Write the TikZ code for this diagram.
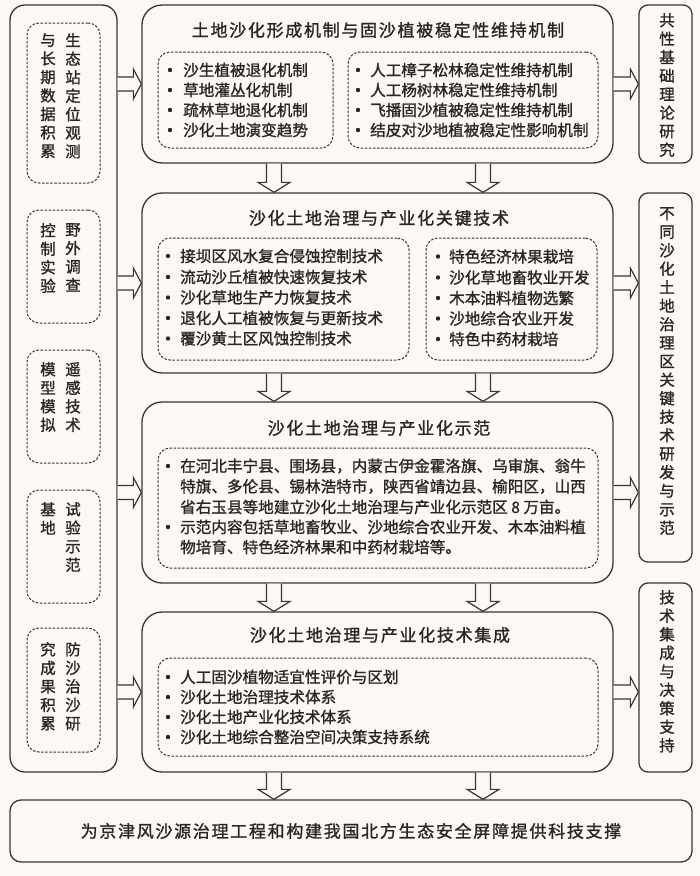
\documentclass[tikz,border=0pt]{standalone}
\usepackage{fontspec}
\newfontfamily\cjk[FakeBold=1.2]{Noto Sans CJK SC}
\newfontfamily\cjkt[LetterSpace=10,FakeBold=1.3]{Noto Sans CJK SC}
\usetikzlibrary{calc}
\definecolor{bg}{HTML}{FBF8F5}
\definecolor{ln}{HTML}{3A3632}
\definecolor{tx}{HTML}{2A2623}
\tikzset{
  mainbox/.style={draw=ln, line width=1.3pt, rounded corners=20pt, fill=bg, inner sep=0pt},
  sidebox/.style={draw=ln, line width=1.3pt, rounded corners=9pt, fill=bg, inner sep=0pt},
  leftbox/.style={draw=ln, line width=1.3pt, rounded corners=15pt, fill=bg, inner sep=0pt},
  dbox/.style={draw=ln, line width=1pt, dash pattern=on 2.5pt off 1.6pt, rounded corners=12pt, inner sep=0pt},
  btext/.style={anchor=west, inner sep=0pt, text=tx, font=\cjk\fontsize{15.6}{18}\selectfont},
  ttext/.style={inner sep=0pt, text=tx, font=\cjkt\fontsize{17}{20}\selectfont},
  vtext/.style={anchor=north, inner sep=0pt, align=center, text=tx, font=\cjk\fontsize{15.5}{18.5}\selectfont},
  blockarrow/.style={draw=ln, line width=1.2pt, fill=bg, line join=miter},
}
\newcommand\bitem[5]{\fill[tx] (#1,#3) circle (2.2pt); \node[btext] (#4) at (#2,#3) {#5};}
\newcommand\rarrow[2]{\draw[blockarrow] let \p1=(#1), \p2=(#2) in
  (\x1,\y2+7pt) -- (\x2-8pt,\y2+7pt) -- (\x2-8pt,\y2+15pt) -- (\x2,\y2) -- (\x2-8pt,\y2-15pt) -- (\x2-8pt,\y2-7pt) -- (\x1,\y2-7pt);}
\newcommand\darrow[2]{\draw[blockarrow] let \p1=(#1), \p2=(#2) in
  (\x1-7.5pt,\y1) -- (\x1-7.5pt,\y2+10pt) -- (\x1-16pt,\y2+10pt) -- (\x1,\y2) -- (\x1+16pt,\y2+10pt) -- (\x1+7.5pt,\y2+10pt) -- (\x1+7.5pt,\y1);}
\begin{document}
\begin{tikzpicture}[x=1pt, y=-1pt]
\fill[bg] (0,0) rectangle (700,876);
\useasboundingbox (0,0) rectangle (700,876);

% left column
\node[leftbox, minimum width=107pt, minimum height=767pt] (L) at (63.5,388.5) {};
\node[dbox, minimum width=73pt, minimum height=160pt] (LD1) at (63.5,103) {};
\node[dbox, minimum width=73pt, minimum height=113pt] (LD2) at (63.5,266.5) {};
\node[dbox, minimum width=73pt, minimum height=113pt] (LD3) at (63.5,406.5) {};
\node[dbox, minimum width=73pt, minimum height=113pt] (LD4) at (63.5,546.5) {};
\node[dbox, minimum width=73pt, minimum height=124pt] (LD5) at (63.5,690) {};
\node[vtext] (l1a) at (73,33) {生\\态\\站\\定\\位\\观\\测};
\node[vtext] (l1b) at (48,33) {与\\长\\期\\数\\据\\积\\累};
\node[vtext] (l2a) at (73,223) {野\\外\\调\\查};
\node[vtext] (l2b) at (48,223) {控\\制\\实\\验};
\node[vtext] (l3a) at (73,362) {遥\\感\\技\\术};
\node[vtext] (l3b) at (48,362) {模\\型\\模\\拟};
\node[vtext] (l4a) at (73,502) {试\\验\\示\\范};
\node[vtext] (l4b) at (48,502) {基\\地};
\node[vtext] (l5a) at (73,642) {防\\沙\\治\\沙\\研};
\node[vtext] (l5b) at (48,642) {究\\成\\果\\积\\累};

% right column
\node[sidebox, minimum width=53pt, minimum height=158pt] (R1) at (665.5,84) {};
\node[sidebox, minimum width=53pt, minimum height=369pt] (R2) at (665.5,377.5) {};
\node[sidebox, minimum width=53pt, minimum height=189pt] (R3) at (665.5,677.5) {};
\node[vtext] (r1) at (667,13) {共\\性\\基\\础\\理\\论\\研\\究};
\node[vtext] (r2) at (667,207) {不\\同\\沙\\化\\土\\地\\治\\理\\区\\关\\键\\技\\术\\研\\发\\与\\示\\范};
\node[vtext] (r3) at (667,590) {技\\术\\集\\成\\与\\决\\策\\支\\持};

% main boxes
\node[mainbox, minimum width=471pt, minimum height=158pt] (M1) at (377.5,84) {};
\node[mainbox, minimum width=471pt, minimum height=180pt] (M2) at (377.5,283) {};
\node[mainbox, minimum width=471pt, minimum height=181pt] (M3) at (377.5,492.5) {};
\node[mainbox, minimum width=471pt, minimum height=160pt] (M4) at (377.5,692) {};
\node[leftbox, rounded corners=11pt, minimum width=682pt, minimum height=62pt] (B) at (351,831) {};

% titles
\node[ttext] (T1) at (378,30) {土地沙化形成机制与固沙植被稳定性维持机制};
\node[ttext] (T2) at (379,218) {沙化土地治理与产业化关键技术};
\node[ttext] (T3) at (379,428) {沙化土地治理与产业化示范};
\node[ttext] (T4) at (380,635) {沙化土地治理与产业化技术集成};
\node[ttext] (BT) at (351,831) {为京津风沙源治理工程和构建我国北方生态安全屏障提供科技支撑};

% dashed inner boxes
\node[dbox, minimum width=175pt, minimum height=96pt] (D1a) at (245.5,100) {};
\node[dbox, minimum width=250pt, minimum height=96pt] (D1b) at (473,100) {};
\node[dbox, minimum width=251pt, minimum height=122pt] (D2a) at (283.5,299) {};
\node[dbox, minimum width=171pt, minimum height=122pt] (D2b) at (511.5,299) {};
\node[dbox, minimum width=440pt, minimum height=120pt] (D3) at (378,508) {};
\node[dbox, minimum width=440pt, minimum height=98pt] (D4) at (378,707) {};

% box 1 items
\bitem{170}{183}{70}{a1}{沙生植被退化机制}
\bitem{170}{183}{90}{a2}{草地灌丛化机制}
\bitem{170}{183}{110}{a3}{疏林草地退化机制}
\bitem{170}{183}{130}{a4}{沙化土地演变趋势}
\bitem{358}{370}{70}{b1}{人工樟子松林稳定性维持机制}
\bitem{358}{370}{90}{b2}{人工杨树林稳定性维持机制}
\bitem{358}{370}{110}{b3}{飞播固沙植被稳定性维持机制}
\bitem{358}{370}{130}{b4}{结皮对沙地植被稳定性影响机制}

% box 2 items
\bitem{168}{180}{256}{c1}{接坝区风水复合侵蚀控制技术}
\bitem{168}{180}{277}{c2}{流动沙丘植被快速恢复技术}
\bitem{168}{180}{297.5}{c3}{沙化草地生产力恢复技术}
\bitem{168}{180}{318}{c4}{退化人工植被恢复与更新技术}
\bitem{168}{180}{338.5}{c5}{覆沙黄土区风蚀控制技术}
\bitem{438}{449}{256.5}{e1}{特色经济林果栽培}
\bitem{438}{449}{277.5}{e2}{沙化草地畜牧业开发}
\bitem{438}{449}{298}{e3}{木本油料植物选繁}
\bitem{438}{449}{318.5}{e4}{沙地综合农业开发}
\bitem{438}{449}{339}{e5}{特色中药材栽培}

% box 3 items
\bitem{168}{180}{466}{f1}{在河北丰宁县、围场县，内蒙古伊金霍洛旗、乌审旗、翁牛}
\node[btext] (f2) at (180,486.5) {特旗、多伦县、锡林浩特市，陕西省靖边县、榆阳区，山西};
\node[btext] (f3) at (180,507) {省右玉县等地建立沙化土地治理与产业化示范区 8 万亩。};
\bitem{168}{180}{527}{f4}{示范内容包括草地畜牧业、沙地综合农业开发、木本油料植}
\node[btext] (f5) at (180,547) {物培育、特色经济林果和中药材栽培等。};

% box 4 items
\bitem{168}{180}{677}{g1}{人工固沙植物适宜性评价与区划}
\bitem{168}{180}{697}{g2}{沙化土地治理技术体系}
\bitem{168}{180}{717}{g3}{沙化土地产业化技术体系}
\bitem{168}{180}{737}{g4}{沙化土地综合整治空间决策支持系统}

% arrows
\coordinate (cA) at (274,0);
\coordinate (cB) at (483,0);
\rarrow{L.east |- M1.west}{M1.west}
\rarrow{L.east |- M2.west}{M2.west}
\rarrow{L.east |- M3.west}{M3.west}
\rarrow{L.east |- M4.west}{M4.west}
\rarrow{M1.east}{R1.west |- M1.east}
\rarrow{M2.east}{R2.west |- M2.east}
\rarrow{M3.east}{R2.west |- M3.east}
\rarrow{M4.east}{R3.west |- M4.east}
\darrow{M1.south -| cA}{M2.north -| cA}
\darrow{M1.south -| cB}{M2.north -| cB}
\darrow{M2.south -| cA}{M3.north -| cA}
\darrow{M2.south -| cB}{M3.north -| cB}
\darrow{M3.south -| cA}{M4.north -| cA}
\darrow{M3.south -| cB}{M4.north -| cB}
\darrow{M4.south -| cA}{B.north -| cA}
\darrow{M4.south -| cB}{B.north -| cB}
\end{tikzpicture}
\end{document}
